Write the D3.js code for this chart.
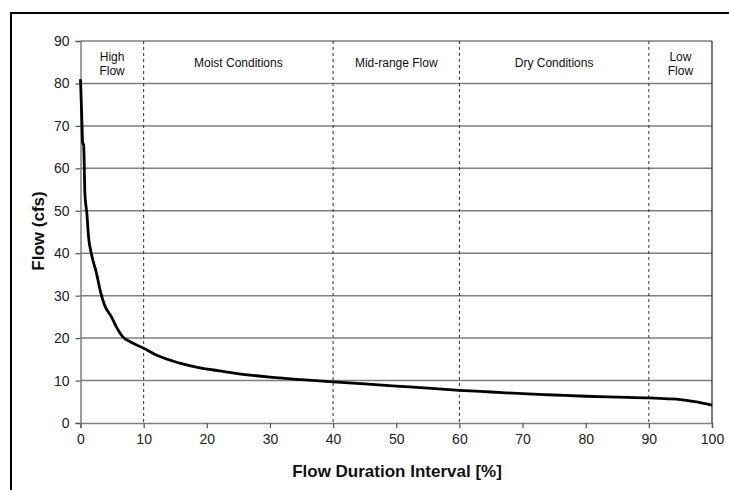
<!DOCTYPE html>
<html>
<head>
<meta charset="utf-8">
<script src="https://d3js.org/d3.v7.min.js"></script>
<style>
body { margin: 0; background: #fff; font-family: "Liberation Sans", Arial, sans-serif; }
.grid line { stroke: #7f7f7f; stroke-width: 1.5; }
.tick text { fill: #222; font-size: 14px; }
</style>
</head>
<body>
<script>
// flow duration curve: [percent exceeded, flow cfs]
var durationPct = [0, 0.2, 0.35, 0.5, 0.7, 1, 1.3, 1.7, 2.5, 3.2, 3.8, 4.9, 5.7, 6.7, 7.8, 9.9, 12, 15.7, 18.9, 22, 26.8, 30, 35, 40, 45, 50, 55, 60, 65, 70, 75, 80, 85, 90, 93, 95, 97, 98.5, 100];
var flowCfs = [81, 72, 66, 65.5, 54, 49.5, 43.5, 40, 35.5, 30.7, 27.8, 25, 22.6, 20.3, 19.2, 17.7, 16, 14.1, 13, 12.3, 11.3, 10.8, 10.2, 9.7, 9.2, 8.7, 8.2, 7.7, 7.3, 6.9, 6.6, 6.3, 6.1, 5.9, 5.7, 5.5, 5.1, 4.7, 4.2];

var xTicks = [0, 10, 20, 30, 40, 50, 60, 70, 80, 90, 100];
var yTicks = [0, 10, 20, 30, 40, 50, 60, 70, 80, 90];
var zoneBreaks = [10, 40, 60, 90];
var zones = [
    {mid: 5, lines: ["High", "Flow"]},
    {mid: 25, lines: ["Moist Conditions"]},
    {mid: 50, lines: ["Mid-range Flow"]},
    {mid: 75, lines: ["Dry Conditions"]},
    {mid: 95, lines: ["Low", "Flow"]}
];

var width = 729, height = 490;
var plotLeft = 80.5, plotRight = 712, plotTop = 41, plotBottom = 423;

var svg = d3.select("body").append("svg")
    .attr("width", width)
    .attr("height", height);

// outer frame, runs off the right and bottom edges
svg.append("rect")
    .attr("x", 11).attr("y", 13)
    .attr("width", 740).attr("height", 500)
    .attr("fill", "none")
    .attr("stroke", "#000")
    .attr("stroke-width", 2);

var x = d3.scaleLinear().domain([0, 100]).range([plotLeft, plotRight]);
var y = d3.scaleLinear().domain([0, 90]).range([plotBottom, plotTop]);

// horizontal gridlines
svg.append("g").attr("class", "grid")
    .selectAll("line")
    .data(yTicks.slice(1))
    .enter().append("line")
    .attr("x1", plotLeft).attr("x2", plotRight)
    .attr("y1", function(d) { return y(d); })
    .attr("y2", function(d) { return y(d); });

// right border of plot
svg.append("line")
    .attr("x1", plotRight).attr("x2", plotRight)
    .attr("y1", plotTop).attr("y2", plotBottom)
    .attr("stroke", "#222").attr("stroke-width", 1.2);

// zone dividers
svg.append("g").selectAll("line")
    .data(zoneBreaks)
    .enter().append("line")
    .attr("x1", function(d) { return x(d); })
    .attr("x2", function(d) { return x(d); })
    .attr("y1", plotTop).attr("y2", plotBottom)
    .attr("stroke", "#333")
    .attr("stroke-width", 1)
    .attr("stroke-dasharray", "3,3");

// axes
var yAxis = svg.append("g")
    .attr("transform", "translate(" + plotLeft + ",0)")
    .call(d3.axisLeft(y).tickValues(yTicks).tickSize(5).tickPadding(6));
var xAxis = svg.append("g")
    .attr("transform", "translate(0," + plotBottom + ")")
    .call(d3.axisBottom(x).tickValues(xTicks).tickSize(5).tickPadding(6));

[yAxis, xAxis].forEach(function(a) {
    a.select(".domain").attr("stroke", "#7f7f7f").attr("stroke-width", 1.5);
    a.selectAll(".tick line").attr("stroke", "#555").attr("stroke-width", 1.2);
    a.selectAll(".tick text").style("font-family", "'Liberation Sans', Arial, sans-serif");
});

// zone labels
zones.forEach(function(z) {
    var t = svg.append("text")
        .attr("text-anchor", "middle")
        .attr("font-size", 12)
        .attr("fill", "#111");
    var y0 = z.lines.length == 1 ? 67 : 61;
    z.lines.forEach(function(s, i) {
        t.append("tspan")
            .attr("x", x(z.mid))
            .attr("y", y0 + i * 14)
            .text(s);
    });
});

// the curve
var line = d3.line()
    .x(function(d) { return x(d[0]); })
    .y(function(d) { return y(d[1]); })
    .curve(d3.curveMonotoneX);

svg.append("path")
    .datum(d3.zip(durationPct, flowCfs))
    .attr("d", line)
    .attr("fill", "none")
    .attr("stroke", "#000")
    .attr("stroke-width", 2.8)
    .attr("stroke-linejoin", "round");

// axis titles
svg.append("text")
    .attr("x", 397)
    .attr("y", 477)
    .attr("text-anchor", "middle")
    .attr("font-size", 17)
    .attr("font-weight", "bold")
    .attr("fill", "#111")
    .text("Flow Duration Interval [%]");

svg.append("text")
    .attr("transform", "translate(44,231) rotate(-90)")
    .attr("text-anchor", "middle")
    .attr("font-size", 17)
    .attr("font-weight", "bold")
    .attr("fill", "#111")
    .text("Flow (cfs)");
</script>
</body>
</html>
